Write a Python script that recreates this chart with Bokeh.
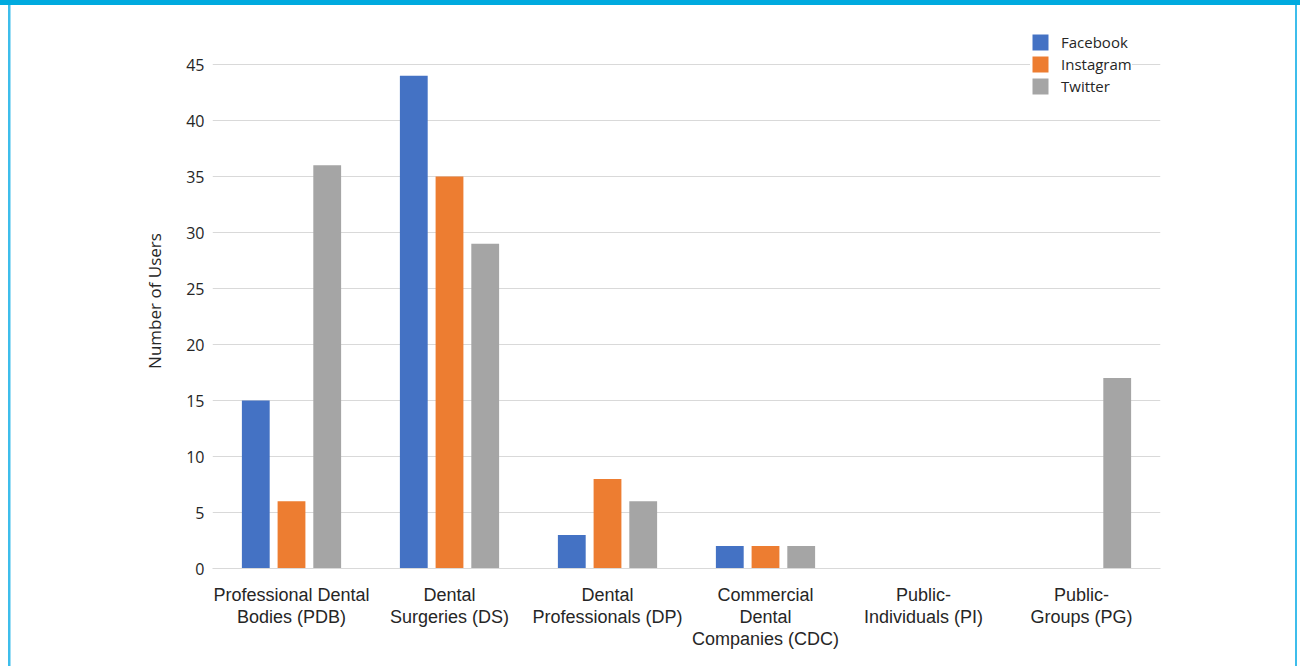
from bokeh.plotting import figure
from bokeh.models import FactorRange, ColumnDataSource, Legend, LegendItem, FixedTicker
from bokeh.transform import dodge
from bokeh.embed import file_html
from bokeh.resources import INLINE

categories = ["Professional Dental\nBodies (PDB)", "Dental\nSurgeries (DS)", "Dental\nProfessionals (DP)",
              "Commercial\nDental\nCompanies (CDC)", "Public-\nIndividuals (PI)", "Public-\nGroups (PG)"]
facebook = [15, 44, 3, 2, 0, 0]
instagram = [6, 35, 8, 2, 0, 0]
twitter = [36, 29, 6, 2, 0, 17]
series_names = ["Facebook", "Instagram", "Twitter"]
colors = ["#4472C4", "#ED7D31", "#A5A5A5"]
y_ticks = [0, 5, 10, 15, 20, 25, 30, 35, 40, 45]

src = ColumnDataSource(dict(cat=categories, Facebook=facebook, Instagram=instagram, Twitter=twitter))

p = figure(x_range=FactorRange(*categories), y_range=(0, 47.77), width=1300, height=666,
           output_backend="svg", toolbar_location=None,
           min_border_left=212, min_border_right=140, min_border_top=33, min_border_bottom=98)

offsets = [-0.226, 0.0, 0.226]
renderers = []
for name, col, off in zip(series_names, colors, offsets):
    r = p.vbar(x=dodge("cat", off, range=p.x_range), top=name, width=0.176, source=src,
               fill_color=col, line_color=None)
    renderers.append(r)

p.outline_line_color = None
p.background_fill_color = "white"
p.border_fill_alpha = 0.0
p.styles = {
    "background-color": "white",
    "background-image": "linear-gradient(#00AADF, #00AADF), linear-gradient(#3DBDEB, #3DBDEB), linear-gradient(#3DBDEB, #3DBDEB)",
    "background-size": "100% 5px, 2.5px 100%, 2px 100%",
    "background-position": "0px 0px, 7.5px 0px, 1294.5px 0px",
    "background-repeat": "no-repeat",
}
p.xgrid.grid_line_color = None
p.ygrid.grid_line_color = "#D9D9D9"
p.ygrid.grid_line_width = 1
p.yaxis.ticker = FixedTicker(ticks=y_ticks)

p.yaxis.axis_line_color = None
p.yaxis.major_tick_line_color = None
p.yaxis.minor_tick_line_color = None
p.yaxis.major_label_text_font = "Open Sans"
p.yaxis.major_label_text_font_size = "16px"
p.yaxis.major_label_text_color = "#262626"
p.yaxis.major_label_standoff = 2
p.yaxis.axis_label = "Number of Users"
p.yaxis.axis_label_text_font = "Open Sans"
p.yaxis.axis_label_text_font_size = "17px"
p.yaxis.axis_label_text_font_style = "normal"
p.yaxis.axis_label_text_color = "#262626"
p.yaxis.axis_label_standoff = 17

p.xaxis.axis_line_color = "#D9D9D9"
p.xaxis.major_tick_line_color = None
p.xaxis.minor_tick_line_color = None
p.xaxis.major_label_text_font = "Liberation Sans"
p.xaxis.major_label_text_font_size = "18px"
p.xaxis.major_label_text_color = "#262626"
p.xaxis.major_label_text_line_height = 1.1
p.xaxis.major_label_standoff = 10

legend = Legend(items=[LegendItem(label=n, renderers=[r]) for n, r in zip(series_names, renderers)],
                location=(818, 472), orientation="vertical",
                background_fill_color="white", background_fill_alpha=1.0,
                border_line_color=None, glyph_width=20, glyph_height=20,
                label_height=21, spacing=1, label_standoff=11, padding=12, margin=0,
                label_text_font="Open Sans", label_text_font_size="15px", label_text_color="#262626")
p.add_layout(legend, "center")

open("out.html", "w").write(file_html(p, INLINE))
